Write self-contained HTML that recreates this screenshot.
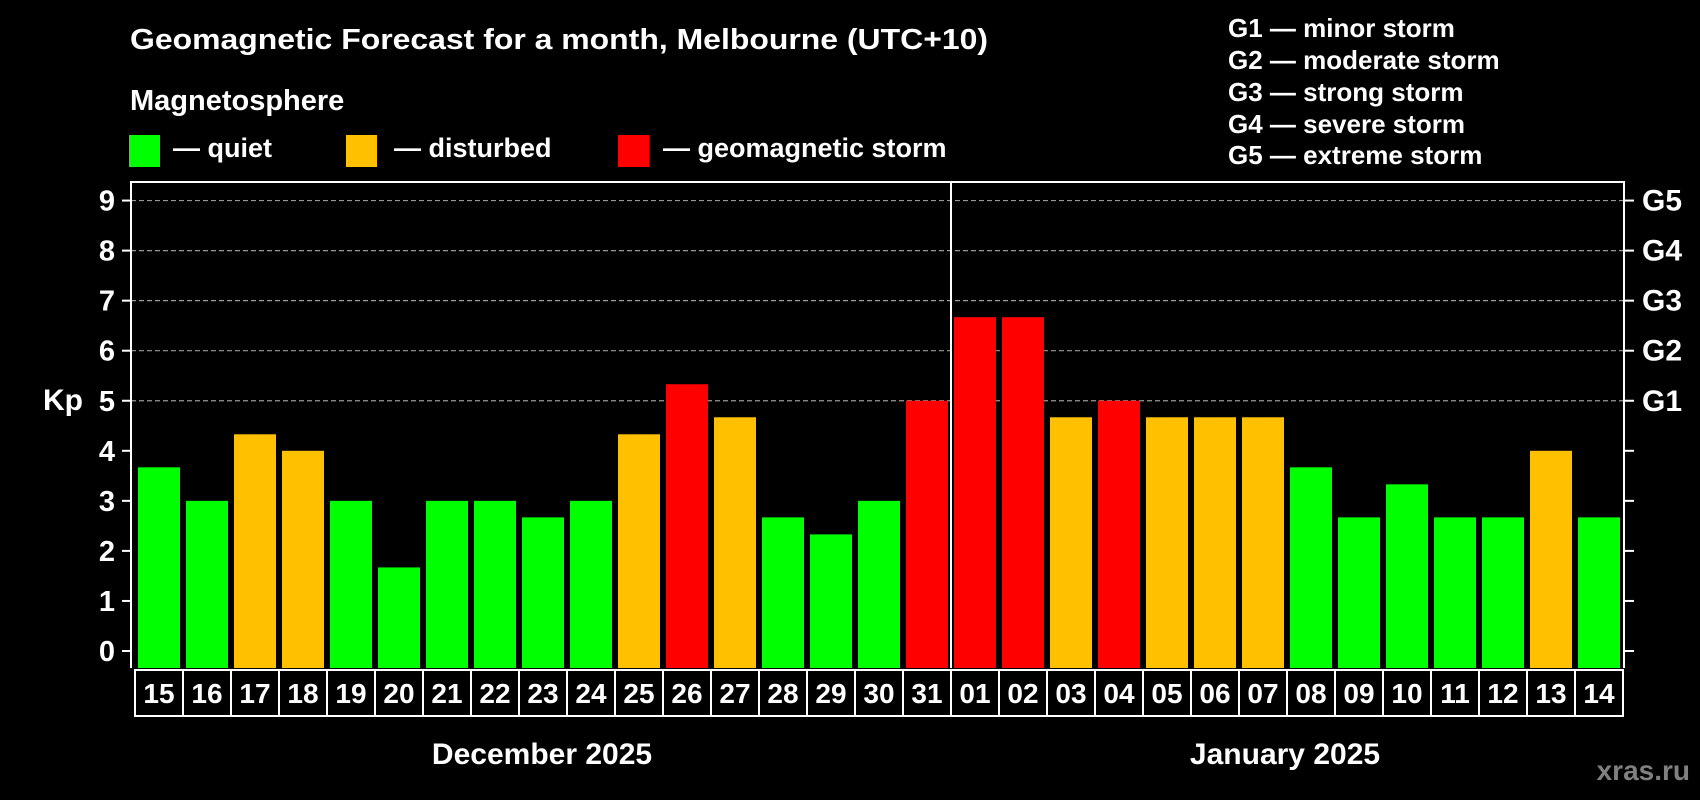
<!DOCTYPE html>
<html><head><meta charset="utf-8"><style>
html,body{margin:0;padding:0;background:#000;}
svg{display:block;font-family:"Liberation Sans",Arial,sans-serif;font-weight:bold;}
</style></head><body>
<svg id="chart" width="1700" height="800" xmlns="http://www.w3.org/2000/svg">
<rect width="1700" height="800" fill="#000"/>
<text x="130" y="49" font-size="29" fill="#fff" textLength="858" lengthAdjust="spacingAndGlyphs">Geomagnetic Forecast for a month, Melbourne (UTC+10)</text>
<text x="130" y="110" font-size="29" fill="#fff">Magnetosphere</text>
<g>
<rect x="129" y="135" width="31" height="32" fill="#00ff00"/>
<text x="173" y="157" font-size="27" fill="#fff">— quiet</text></g>
<g>
<rect x="346" y="135" width="31" height="32" fill="#ffc000"/>
<text x="394" y="157" font-size="27" fill="#fff">— disturbed</text></g>
<g>
<rect x="618" y="135" width="31" height="32" fill="#ff0000"/>
<text x="663" y="157" font-size="27" fill="#fff">— geomagnetic storm</text></g>
<g font-size="26" fill="#fff">
<text x="1228" y="37">G1 — minor storm</text>
<text x="1228" y="69">G2 — moderate storm</text>
<text x="1228" y="101">G3 — strong storm</text>
<text x="1228" y="133">G4 — severe storm</text>
<text x="1228" y="164">G5 — extreme storm</text>
</g>
<text x="43" y="410" font-size="30" fill="#fff">Kp</text>
<g id="grid"></g>
<g id="bars"></g>
<g id="axes"></g>
<text x="542" y="764" font-size="30" fill="#fff" text-anchor="middle">December 2025</text>
<text x="1285" y="764" font-size="30" fill="#fff" text-anchor="middle">January 2025</text>
<text x="1690" y="780" font-size="28" fill="#808080" text-anchor="end">xras.ru</text>
</svg>
<script>
const days = ["15","16","17","18","19","20","21","22","23","24","25","26","27","28","29","30","31","01","02","03","04","05","06","07","08","09","10","11","12","13","14"];
const kpValues = [3.67,3,4.33,4,3,1.67,3,3,2.67,3,4.33,5.33,4.67,2.67,2.33,3,5,6.67,6.67,4.67,5,4.67,4.67,4.67,3.67,2.67,3.33,2.67,2.67,4,2.67];
const yTicks = [0,1,2,3,4,5,6,7,8,9];
const gLevels = ["G1","G2","G3","G4","G5"];
const gLevelValues = [5,6,7,8,9];
const monthSplitIndex = 17;

(function(){
const NS="http://www.w3.org/2000/svg";
const pLeft=131, pRight=1624, pTop=182, pBottom=668, slot0=135, slotW=48, barW=42;
const y0=651, unit=50.05;
function yScale(v){return y0 - v*unit;}
function xScale(i){return slot0 + i*slotW;}
function colorFor(v){return v>=5?"#ff0000":(v>=4?"#ffc000":"#00ff00");}
function mk(tag,attrs,parent){const e=document.createElementNS(NS,tag);for(const k in attrs)e.setAttribute(k,attrs[k]);parent.appendChild(e);return e;}
const grid=document.getElementById('grid'), bars=document.getElementById('bars'), axes=document.getElementById('axes');

gLevelValues.forEach((v)=>{
  const l=mk('line',{x1:pLeft,x2:pRight,y1:yScale(v),y2:yScale(v),stroke:'#999','stroke-width':1.2,'stroke-dasharray':'5,3'},grid);
  
  
});
kpValues.forEach((v,i)=>{
  const x=xScale(i)+3, yt=yScale(v);
  const r=mk('rect',{x:x,y:yt,width:barW,height:pBottom-yt,fill:colorFor(v)},bars);
  
  
});
const f=mk('path',{d:`M${pLeft} ${pBottom} V${pTop} H${pRight} V${pBottom}`,fill:'none',stroke:'#fff','stroke-width':2},axes);


const div=mk('line',{x1:xScale(monthSplitIndex),x2:xScale(monthSplitIndex),y1:pTop,y2:pBottom,stroke:'#fff','stroke-width':2},axes);


yTicks.forEach(v=>{
  const y=yScale(v);
  const t1=mk('line',{x1:122,x2:pLeft,y1:y,y2:y,stroke:'#fff','stroke-width':2},axes);
  
  
  const t2=mk('line',{x1:pRight,x2:1634,y1:y,y2:y,stroke:'#fff','stroke-width':2},axes);
  
  
  const tx=mk('text',{x:115,y:y+10,'font-size':29,fill:'#fff','text-anchor':'end'},axes);
  tx.textContent=v;
  
  
});
gLevels.forEach((g,i)=>{
  const t=mk('text',{x:1642,y:yScale(gLevelValues[i])+10,'font-size':30,fill:'#fff'},axes);
  t.textContent=g;
  
  
});
days.forEach((d,i)=>{
  const x=xScale(i);
  const b=mk('rect',{x:x,y:670,width:slotW,height:46,fill:'none',stroke:'#fff','stroke-width':2},axes);
  
  
  const t=mk('text',{x:x+slotW/2,y:703,'font-size':28,fill:'#fff','text-anchor':'middle'},axes);
  t.textContent=d;
  
  
});
})();
</script>
</body></html>
